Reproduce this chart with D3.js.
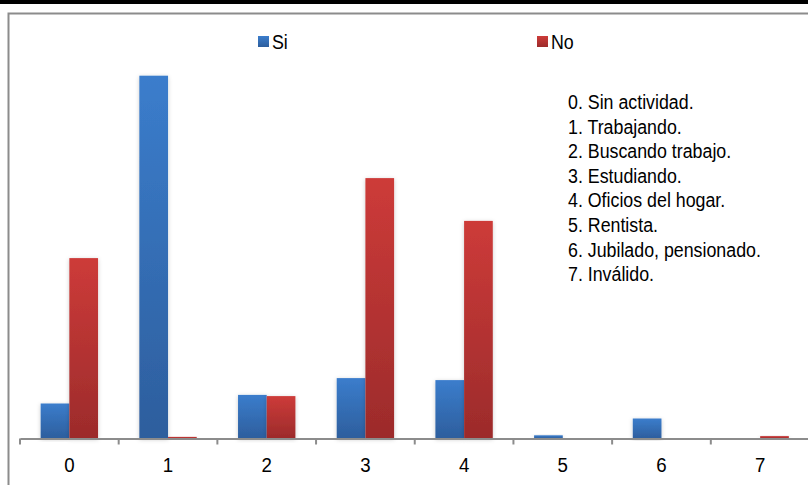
<!DOCTYPE html>
<html><head><meta charset="utf-8">
<script src="https://cdn.jsdelivr.net/npm/d3@7"></script>
<style>
html,body{margin:0;padding:0;background:#fff;}
svg{display:block;font-family:"Liberation Sans Narrow","Arial Narrow","Liberation Sans",Arial,sans-serif;}
</style></head><body>
<svg id="chart" width="808" height="485"></svg>
<script>
const categories = ["0","1","2","3","4","5","6","7"];
const seriesNames = ["Si","No"];
const siValues = [8.75, 90.7, 10.9, 15.1, 14.6, 0.8, 5.0, 0];
const noValues = [45.1, 0.4, 10.6, 65.1, 54.4, 0, 0, 0.6];
const notes = ["0. Sin actividad.","1. Trabajando.","2. Buscando trabajo.","3. Estudiando.","4. Oficios del hogar.","5. Rentista.","6. Jubilado, pensionado.","7. Inválido."];

const svg = d3.select("#chart");
const W = 808, H = 485;
const SX = 0.89;
const defs = svg.append("defs");
function grad(id, c1, c2){
  const g = defs.append("linearGradient").attr("id", id).attr("x1",0).attr("y1",0).attr("x2",0).attr("y2",1);
  g.append("stop").attr("offset","0%").attr("stop-color",c1);
  g.append("stop").attr("offset","100%").attr("stop-color",c2);
}
grad("gSi","#3b7dcc","#2d5e9d");
grad("gNo","#cd3b39","#9c2b2b");
const f = defs.append("filter").attr("id","sh").attr("x","-30%").attr("y","-10%").attr("width","160%").attr("height","120%");
f.append("feDropShadow").attr("dx",0).attr("dy",1).attr("stdDeviation",2).attr("flood-color","#000").attr("flood-opacity",0.2);

// frame
svg.append("rect").attr("x",0).attr("y",0).attr("width",W).attr("height",4).attr("fill","#000");
svg.append("path").attr("d",`M8.5,${H}V13.5H${W}`).attr("fill","none").attr("stroke","#8c8c8c").attr("stroke-width",2);

const x = d3.scaleBand().domain(categories).range([20, 809.5]).paddingInner(0).paddingOuter(0);
const x1 = d3.scaleBand().domain(seriesNames).range([0, x.bandwidth()]).paddingOuter(0.72).paddingInner(0);
const y = d3.scaleLinear().domain([0,100]).range([438.5, 38.5]);

const data = categories.map((c,i)=>({cat:c, vals:[{s:"Si",v:siValues[i]},{s:"No",v:noValues[i]}]}));
const g = svg.append("g");
const groups = g.selectAll("g.grp").data(data).join("g").attr("transform",d=>`translate(${x(d.cat)},0)`);
groups.selectAll("rect").data(d=>d.vals.filter(e=>e.v>0)).join("rect")
  .attr("x",d=>x1(d.s)).attr("width",x1.bandwidth())
  .attr("y",d=>y(d.v)).attr("height",d=>y(0)-y(d.v))
  .attr("fill",d=>d.s==="Si"?"url(#gSi)":"url(#gNo)")
  .attr("filter","url(#sh)");

// axis
const ax = svg.append("g").attr("transform",`translate(0,${y(0)})`)
  .call(d3.axisBottom(x).tickSize(0).tickPadding(19));
ax.select(".domain").attr("stroke","#8c8c8c").attr("stroke-width",2);
ax.selectAll("text").attr("font-size",21).attr("fill","#000")
  .attr("font-family","'Liberation Sans',Arial,sans-serif").attr("transform",`scale(${SX},1)`);
const tickPos = categories.map(c=>x(c));
svg.append("g").selectAll("line").data(tickPos).join("line")
  .attr("x1",d=>d).attr("x2",d=>d).attr("y1",y(0)).attr("y2",y(0)+6)
  .attr("stroke","#8c8c8c").attr("stroke-width",2);

// legend
const leg = [{s:"Si",x:258},{s:"No",x:537}];
leg.forEach(l=>{
  svg.append("rect").attr("x",l.x).attr("y",36).attr("width",11).attr("height",11)
    .attr("fill",l.s==="Si"?"url(#gSi)":"url(#gNo)");
  svg.append("text").attr("transform",`translate(${l.x+14},49) scale(${SX},1)`)
    .attr("font-size",20).attr("fill","#000").text(l.s);
});

// notes
svg.append("g").attr("transform",`translate(568,0) scale(${SX},1)`)
  .selectAll("text").data(notes).join("text")
  .attr("x",0).attr("y",(d,i)=>109+i*24.6).attr("font-size",20).attr("fill","#000").text(d=>d);
</script>
</body></html>
